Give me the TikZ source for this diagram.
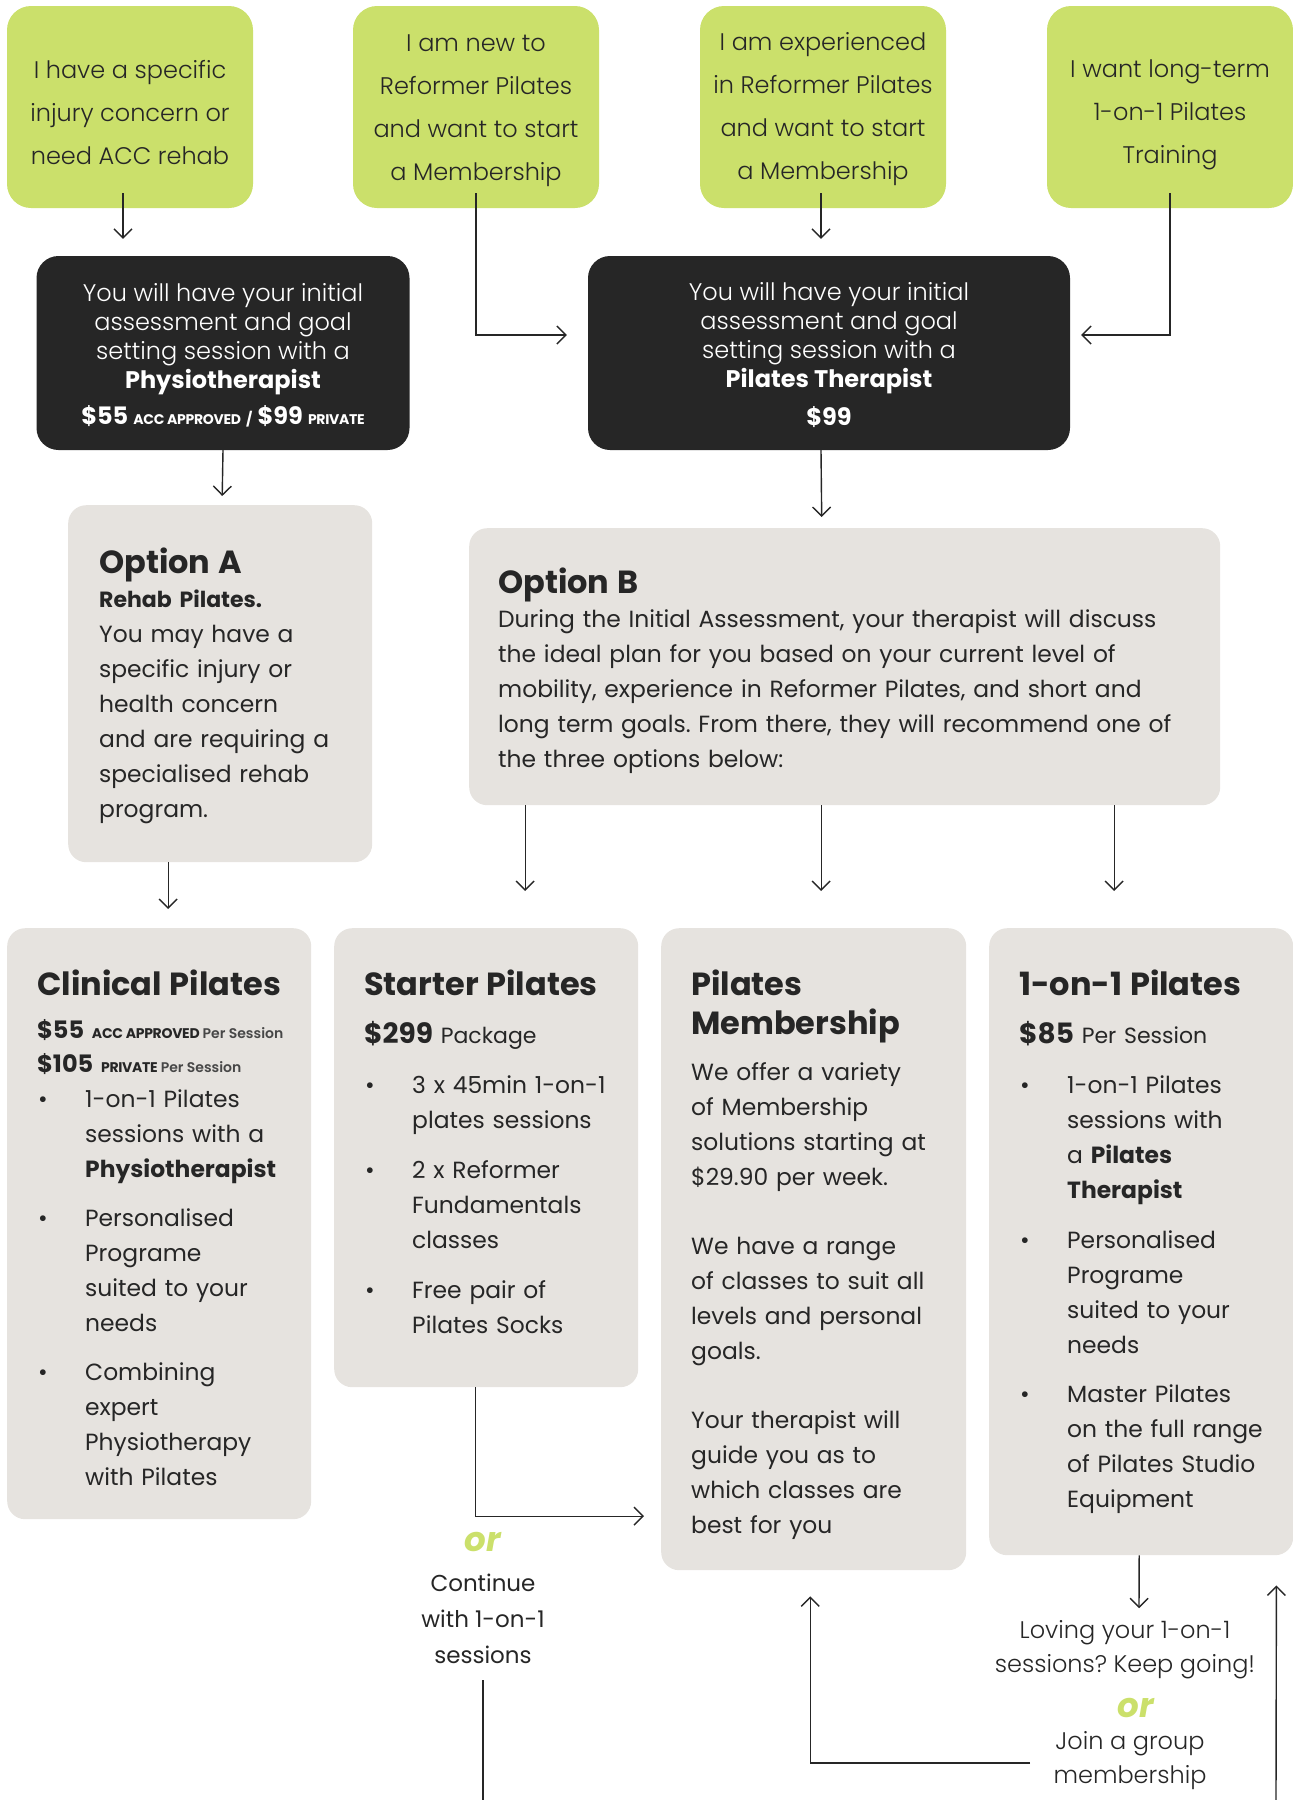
\documentclass[tikz,border=0pt]{standalone}
\usepackage{fontspec}
\setmainfont{Poppins}
\IfFontExistsTF{Poppins Light}
  {\newfontfamily\lightfont{Poppins Light}}
  {\newfontfamily\lightfont{Poppins}}
\usetikzlibrary{positioning,calc,arrows,arrows.meta}
\usepackage{xcolor}
\definecolor{limegreen}{HTML}{CBE06B}
\definecolor{charcoal}{HTML}{262626}
\definecolor{stone}{HTML}{E6E3DF}
\frenchspacing
\newcommand{\tagfont}{\bfseries\fontsize{14}{14}\selectfont\addfontfeature{LetterSpace=-2}\spaceskip=0pt\xspaceskip=0pt\relax}
\newcommand{\perfont}{\lightfont\fontsize{14}{14}\selectfont\spaceskip=0pt\xspaceskip=0pt\color{charcoal!85}}
\newcommand{\cardfont}{\fontsize{23.4}{35}\selectfont\parindent=0pt\relax}
\newcommand{\headfont}{\bfseries\fontsize{32}{32}\selectfont}
\newcommand{\pitem}[1]{\hangindent=48pt\hangafter=1\noindent\makebox[48pt][l]{\hspace{1pt}\textbullet}#1\par}

\begin{document}
\begin{tikzpicture}[x=1pt,y=-1pt,>={Straight Barb[length=9pt,width=18pt]},
  choice/.style={rectangle,rounded corners=24pt,fill=limegreen,minimum width=246pt,minimum height=202pt,align=center,text=charcoal,font=\lightfont\fontsize{24}{43}\selectfont},
  session/.style={rectangle,rounded corners=22pt,fill=charcoal,minimum height=194pt,align=center,text=white,font=\lightfont\fontsize{24}{29}\selectfont},
  card/.style={rectangle,rounded corners=18pt,fill=stone,anchor=north west,inner sep=0pt},
  cardtext/.style={inner sep=0pt,text width=#1,align=left,text=charcoal,font=\cardfont},
  note/.style={align=center,text=charcoal,font=\lightfont\fontsize{24}{34}\selectfont},
  ortext/.style={text=limegreen,font=\bfseries\itshape\fontsize{34}{34}\selectfont},
  flow/.style={->,line width=1.4pt,draw=charcoal}]
\useasboundingbox (0,0) rectangle (1293,1800);
% nodes
  \node[choice] (g1) at (130,107) {\rule{0pt}{30pt}I have a specific\\ injury concern or\\ need ACC rehab};
  \node[choice] (g2) at (476,107) {\rule{0pt}{24pt}I am new to\\ Reformer Pilates\\ and want to start\\ a Membership};
  \node[choice] (g3) at (823,107) {\rule{0pt}{23pt}I am experienced\\ in Reformer Pilates\\ and want to start\\ a Membership};
  \node[choice] (g4) at (1170,107) {\rule{0pt}{34pt}I want long-term\\ 1-on-1 Pilates\\ Training};

  \node[session,minimum width=373pt] (d1) at (223,353) {\rule{0pt}{22pt}You will have your initial\\ assessment and goal\\ setting session with a\\ {\fontspec{Poppins}\bfseries Physiotherapist}\\[7pt]
    {\fontspec{Poppins}\bfseries\fontsize{24}{24}\selectfont\$55 {\tagfont ACC APPROVED} {\tagfont /} \$99 {\tagfont PRIVATE}}};
  \node[session,minimum width=482pt] (d2) at (829,353) {\rule{0pt}{23pt}You will have your initial\\ assessment and goal\\ setting session with a\\ {\fontspec{Poppins}\bfseries Pilates Therapist}\\[9pt]
    {\fontspec{Poppins}\bfseries\fontsize{24}{24}\selectfont\$99}};

  \node[card,minimum width=304pt,minimum height=357pt] (optA) at (68,505) {};
  \node[cardtext=260pt] (optAtext) [below right=43pt and 31pt of optA.north west] {%
    {\bfseries\fontsize{32}{32}\selectfont Option A\par}
    {\bfseries\fontsize{22}{33.5}\selectfont Rehab Pilates.\par}
    You may have a\\ specific injury or\\ health concern\\ and are requiring a\\ specialised rehab\\ program.\par};
  \node[card,minimum width=751pt,minimum height=277pt] (optB) at (469,528) {};
  \node[cardtext=700pt] (optBtext) [below right=40pt and 29pt of optB.north west] {%
    {\bfseries\fontsize{32}{32}\selectfont Option B\par}
    \vspace{-1pt}
    During the Initial Assessment, your therapist will discuss\\ the ideal plan for you based on your current level of\\ mobility, experience in Reformer Pilates, and short and\\ long term goals. From there, they will recommend one of\\ the three options below:\par};

  \node[card,minimum width=304pt,minimum height=591pt] (clinical) at (7,928) {};
  \node[cardtext=270pt] (clinicaltext) [below right=42pt and 30pt of clinical.north west] {%
    {\headfont Clinical Pilates\par}
    {\bfseries\fontsize{24}{43}\selectfont\$55 {\tagfont ACC APPROVED}\hspace{3pt}{\perfont Per Session}\par}
    {\bfseries\fontsize{24}{34}\selectfont\$105 {\tagfont PRIVATE}\hspace{3pt}{\perfont Per Session}\par}
    \pitem{1-on-1 Pilates\newline sessions with a\newline \textbf{Physiotherapist}}
    \vspace{14pt}
    \pitem{Personalised\newline Programe\newline suited to your\newline needs}
    \vspace{14pt}
    \pitem{Combining\newline expert\newline Physiotherapy\newline with Pilates}};

  \node[card,minimum width=304pt,minimum height=459pt] (starter) at (334,928) {};
  \node[cardtext=270pt] (startertext) [below right=42pt and 30pt of starter.north west] {%
    {\headfont Starter Pilates\par}
    {\fontsize{28}{47.7}\selectfont\textbf{\$299} {\fontsize{22}{22}\selectfont Package}\par}
    \vspace{15pt}
    \pitem{3 x 45min 1-on-1\newline plates sessions}
    \vspace{15pt}
    \pitem{2 x Reformer\newline Fundamentals\newline classes}
    \vspace{15pt}
    \pitem{Free pair of\newline Pilates Socks}};

  \node[card,minimum width=305pt,minimum height=642pt] (membership) at (661,928) {};
  \node[cardtext=270pt] (membershiptext) [below right=42pt and 30pt of membership.north west] {%
    {\bfseries\fontsize{32}{39}\selectfont Pilates\\ Membership\par}
    \vspace{11pt}
    We offer a variety\\ of Membership\\ solutions starting at\\ \$29.90 per week.\par
    \vspace{34pt}
    We have a range\\ of classes to suit all\\ levels and personal\\ goals.\par
    \vspace{34pt}
    Your therapist will\\ guide you as to\\ which classes are\\ best for you\par};

  \node[card,minimum width=304pt,minimum height=627pt] (oneon) at (989,928) {};
  \node[cardtext=270pt] (oneontext) [below right=42pt and 30pt of oneon.north west] {%
    {\headfont 1-on-1 Pilates\par}
    {\fontsize{28}{47.4}\selectfont\textbf{\$85} {\fontsize{22}{22}\selectfont Per Session}\par}
    \vspace{15pt}
    \pitem{1-on-1 Pilates\newline sessions with\newline a \textbf{Pilates}\newline \textbf{Therapist}}
    \vspace{15pt}
    \pitem{Personalised\newline Programe\newline suited to your\newline needs}
    \vspace{14pt}
    \pitem{Master Pilates\newline on the full range\newline of Pilates Studio\newline Equipment}};

  \node[ortext] (or1) at (483,1542) {or};
  \node[note,font=\fontsize{23}{36}\selectfont] (cont) at (483,1619) {Continue\\ with 1-on-1\\ sessions};
  \node[note] (loving) at (1125,1650) {Loving your 1-on-1\\ sessions? Keep going!};
  \node[ortext] (or2) at (1136,1708) {or};
  \node[note] (join) at (1130,1761) {Join a group\\ membership};
  \coordinate (contend) at (483,1800);
  \coordinate (rightfoot) at (1276,1800);

%edges
  \draw[flow] ($(g1.south)+(-7,-15)$) -- ($(d1.north)+(-100,-17)$);
  \draw[flow] ($(g2.south)+(0,-15)$) |- ($(d2.west)+(-21,-18)$);
  \draw[flow] ($(g3.south)+(-2,-15)$) -- ($(d2.north)+(-8,-17)$);
  \draw[flow] ($(g4.south)+(0,-15)$) |- ($(d2.east)+(11,-18)$);
  \draw[flow] (d1.south) -- ($(optA.north)+(2,-9)$);
  \draw[flow] ($(d2.south)+(-8,0)$) -- ($(optB.north)+(-23,-11)$);
  \draw[flow] ($(optA.south)+(-52,0)$) -- ($(clinical.north)+(9,-19)$);
  \draw[flow] ($(optB.south)+(-319.5,0)$) -- ($(starter.north)+(39,-37)$);
  \draw[flow] ($(optB.south)+(-23.5,0)$) -- ($(membership.north)+(7.5,-37)$);
  \draw[flow] ($(optB.south)+(269.5,0)$) -- ($(oneon.north)+(-27,-37)$);
  \draw[flow] ($(starter.south)+(-11,0)$) |- ($(membership.west)+(-17,267)$);
  \draw[flow,-] ($(cont.south)+(0,13)$) -- (contend);
  \draw[flow] ($(oneon.south)+(-2,0)$) -- ($(loving.north)+(14,-9)$);
  \draw[flow] ($(join.west)+(-20,2)$) -| ($(membership.south)+(-3.5,26)$);
  \draw[flow] (rightfoot) -- ($(oneon.south east)+(-17,30)$);
\end{tikzpicture}
\end{document}
